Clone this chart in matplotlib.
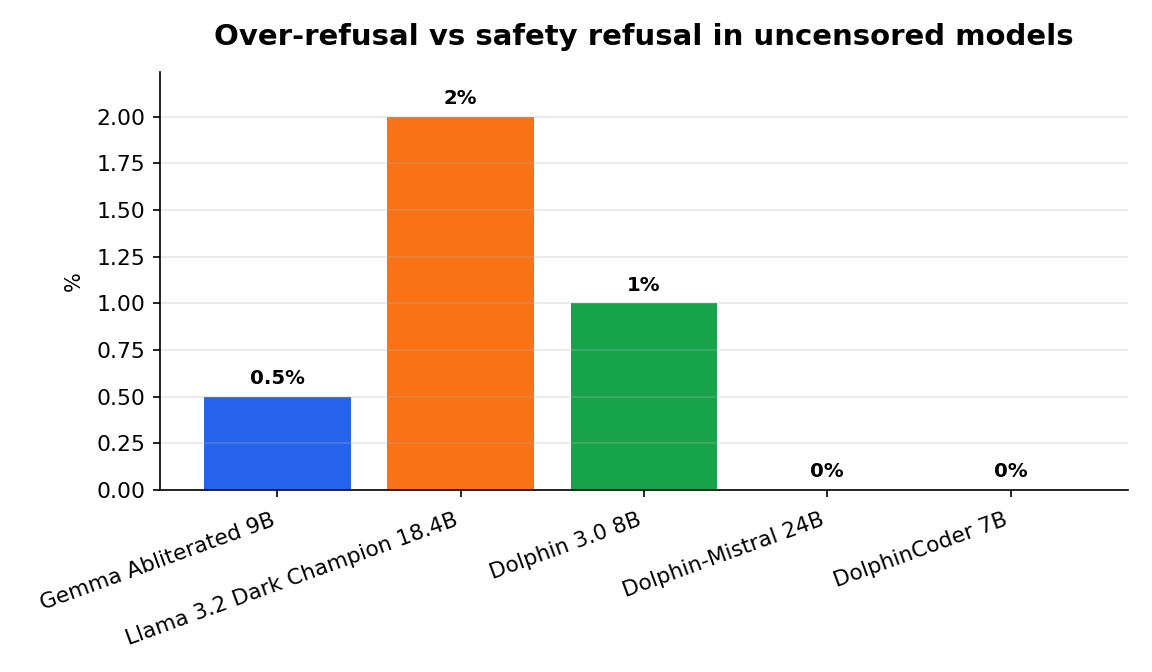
import matplotlib
matplotlib.use("Agg")
import matplotlib.pyplot as plt

modelos = ["Gemma Abliterated 9B", "Llama 3.2 Dark Champion 18.4B", "Dolphin 3.0 8B",
           "Dolphin-Mistral 24B", "DolphinCoder 7B"]
valores = [0.5, 2.0, 1.0, 0.0, 0.0]
rotulos = ["0.5%", "2%", "1%", "0%", "0%"]
cores = ["#2563eb", "#f97316", "#16a34a", "#dc2626", "#9333ea"]

fig, ax = plt.subplots(figsize=(7.68, 4.48), dpi=150)
x = range(len(modelos))
barras = ax.bar(x, valores, color=cores, width=0.8)

for b, r in zip(barras, rotulos):
    ax.text(b.get_x() + b.get_width() / 2, b.get_height() + 0.045, r,
            ha="center", va="bottom", fontsize=9.5, fontweight="bold")

ax.set_ylim(0, max(valores) * 1.12)
ax.set_xticks(list(x))
ax.set_xticklabels(modelos, rotation=20, ha="right", fontsize=10.4)
ax.tick_params(axis="x", pad=6)
ax.tick_params(axis="y", labelsize=10.5)
ax.set_ylabel("%", fontsize=10, labelpad=6)
ax.set_title("Over-refusal vs safety refusal in uncensored models",
             fontsize=14, fontweight="bold", pad=13)
ax.grid(True, axis="y", alpha=0.3)
ax.spines["top"].set_visible(False)
ax.spines["right"].set_visible(False)

fig.subplots_adjust(left=0.139, right=0.979, top=0.893, bottom=0.271)
fig.savefig("out.png")
